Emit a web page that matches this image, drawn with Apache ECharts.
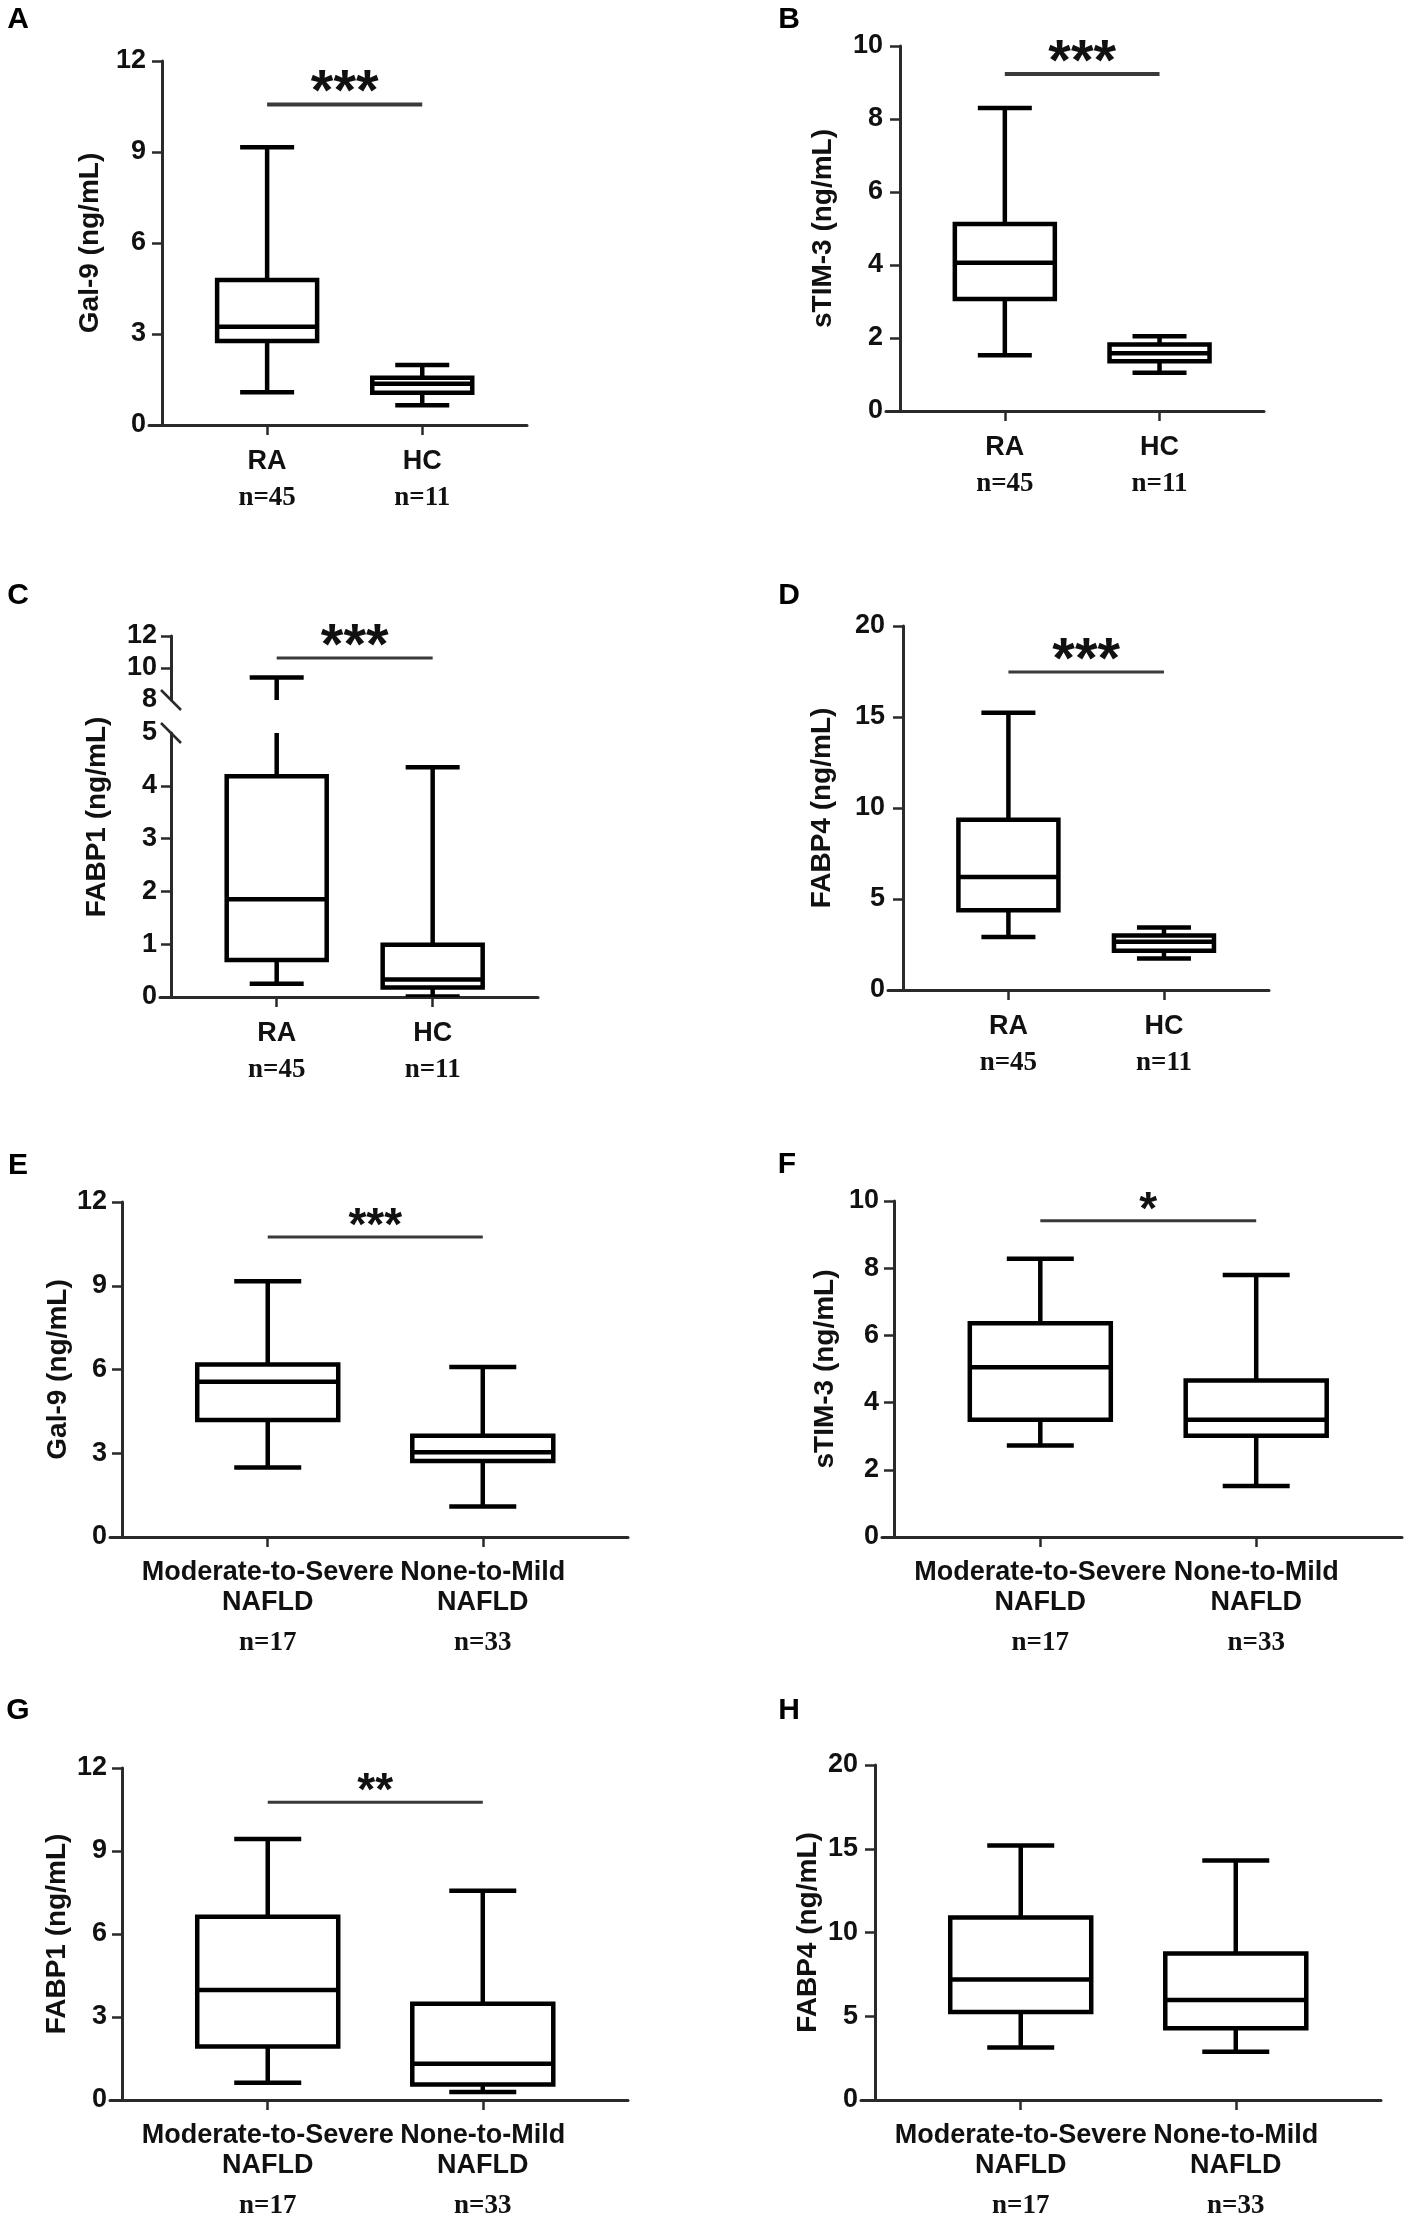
<!DOCTYPE html>
<html>
<head>
<meta charset="utf-8">
<title>Gal-9, sTIM-3, FABP1, FABP4 box plots</title>
<script src="https://cdn.jsdelivr.net/npm/echarts@6/dist/echarts.min.js"></script>
<style>
  html, body { margin: 0; background: #fff; }
  #chart { width: 1412px; height: 2220px; }
</style>
</head>
<body>
<div id="chart"></div>
<script>
/* groups */
const ratGroups = ['RA', 'HC']
const ratCounts = ['n=45', 'n=11']
const nafldGroups = ['Moderate-to-Severe\nNAFLD', 'None-to-Mild\nNAFLD']
const nafldCounts = ['n=17', 'n=33']

/* box stats per group: [min, q1, median, q3, max] */
const gal9RA = [[1.08, 2.77, 3.24, 4.78, 9.16], [0.65, 1.06, 1.36, 1.56, 1.98]]
const stim3RA = [[1.53, 3.07, 4.06, 5.12, 8.30], [1.05, 1.36, 1.58, 1.82, 2.05]]
const fabp1RA = [[0.25, 0.70, 1.85, 4.18, 9.40], [0.01, 0.18, 0.33, 0.99, 4.35]]
const fabp4RA = [[2.91, 4.38, 6.21, 9.35, 15.23], [1.73, 2.16, 2.65, 3.00, 3.44]]
const gal9NAFLD = [[2.49, 4.19, 5.56, 6.18, 9.16], [1.09, 2.72, 3.04, 3.63, 6.09]]
const stim3NAFLD = [[2.72, 3.49, 5.05, 6.36, 8.28], [1.52, 3.01, 3.49, 4.66, 7.80]]
const fabp1NAFLD = [[0.62, 1.93, 3.98, 6.62, 9.43], [0.29, 0.56, 1.31, 3.48, 7.56]]
const fabp4NAFLD = [[3.13, 5.25, 7.20, 10.90, 15.19], [2.88, 4.28, 5.97, 8.74, 14.30]]

/* y ticks */
const gal9Ticks = [0, 3, 6, 9, 12]
const stim3Ticks = [0, 2, 4, 6, 8, 10]
const fabp1LowTicks = [0, 1, 2, 3, 4, 5]
const fabp1HighTicks = [8, 10, 12]
const fabp4Ticks = [0, 5, 10, 15, 20]

/* significance: stars and bar level, panels A..H */
const sigMarks = ['***', '***', '***', '***', '***', '*', '**', '']
const sigLevels = [10.57, 9.23, 10.62, 17.47, 10.75, 9.41, 10.76, null]

/* layout (pixels) */
const catPos = [0.288, 0.713]
const FONT = '"Liberation Sans", Arial, sans-serif'
const SERIF = '"Liberation Serif", "Times New Roman", serif'
const INK = '#111'
const AXIS = '#2a2a2a'

const frames = {
	A: { left: 149, axisX: 162, right: 527, top: 61, bottom: 425, nameGap: 45, letter: [18, 20] },
	B: { left: 886, axisX: 900, right: 1264, top: 46, bottom: 411, nameGap: 49, letter: [789, 20] },
	C: { left: 160, axisX: 171, right: 538, top: 733, bottom: 997, upTop: 636, upBottom: 700, letter: [18, 596] },
	D: { left: 888, axisX: 903, right: 1269, top: 626, bottom: 990, nameGap: 52, letter: [789, 596] },
	E: { left: 110, axisX: 122, right: 628, top: 1202, bottom: 1537, nameGap: 38, letter: [18, 1166] },
	F: { left: 882, axisX: 894, right: 1402, top: 1201, bottom: 1537, nameGap: 43, letter: [787, 1165] },
	G: { left: 110, axisX: 122, right: 628, top: 1768, bottom: 2100, nameGap: 39, letter: [18, 1711] },
	H: { left: 861, axisX: 875, right: 1381, top: 1765, bottom: 2100, nameGap: 39, letter: [789, 1711] }
}

const panels = [
	{ key: 'A', stats: gal9RA, groups: ratGroups, counts: ratCounts, ticks: gal9Ticks, name: 'Gal-9 (ng/mL)' },
	{ key: 'B', stats: stim3RA, groups: ratGroups, counts: ratCounts, ticks: stim3Ticks, name: 'sTIM-3 (ng/mL)' },
	{ key: 'C', stats: fabp1RA, groups: ratGroups, counts: ratCounts, ticks: fabp1LowTicks, name: 'FABP1 (ng/mL)' },
	{ key: 'D', stats: fabp4RA, groups: ratGroups, counts: ratCounts, ticks: fabp4Ticks, name: 'FABP4 (ng/mL)' },
	{ key: 'E', stats: gal9NAFLD, groups: nafldGroups, counts: nafldCounts, ticks: gal9Ticks, name: 'Gal-9 (ng/mL)' },
	{ key: 'F', stats: stim3NAFLD, groups: nafldGroups, counts: nafldCounts, ticks: stim3Ticks, name: 'sTIM-3 (ng/mL)' },
	{ key: 'G', stats: fabp1NAFLD, groups: nafldGroups, counts: nafldCounts, ticks: gal9Ticks, name: 'FABP1 (ng/mL)' },
	{ key: 'H', stats: fabp4NAFLD, groups: nafldGroups, counts: nafldCounts, ticks: fabp4Ticks, name: 'FABP4 (ng/mL)' }
]

/* draw helpers */

const boxRenderer = (boxW, capW, lw) => (params, api) => {
	const x = api.value(0)
	const mn = api.value(1), q1 = api.value(2), md = api.value(3), q3 = api.value(4), mx = api.value(5)
	const px = api.coord([x, 0])[0]
	const y = v => api.coord([x, v])[1]
	const st = { stroke: '#000', lineWidth: lw, fill: null }
	const hline = (v, w) => ({ type: 'line', shape: { x1: px - w / 2, y1: y(v), x2: px + w / 2, y2: y(v) }, style: st })
	return {
		type: 'group',
		children: [
			{ type: 'line', shape: { x1: px, y1: y(mx), x2: px, y2: y(q3) }, style: st },
			{ type: 'line', shape: { x1: px, y1: y(q1), x2: px, y2: y(mn) }, style: st },
			hline(mx, capW),
			hline(mn, capW),
			{ type: 'rect', shape: { x: px - boxW / 2, y: y(q3), width: boxW, height: y(q1) - y(q3) },
				style: { stroke: '#000', lineWidth: lw, fill: '#fff' } },
			hline(md, boxW)
		]
	}
}

const sigRenderer = (mark, fontSize, lw) => (params, api) => {
	const a = api.coord([api.value(0), api.value(2)])
	const b = api.coord([api.value(1), api.value(2)])
	return {
		type: 'group',
		children: [
			{ type: 'line', shape: { x1: a[0], y1: a[1], x2: b[0], y2: b[1] }, style: { stroke: '#3a3a3a', lineWidth: lw } },
			{ type: 'text', x: (a[0] + b[0]) / 2, y: a[1] - 10,
				style: { text: mark, fill: INK, font: `bold ${fontSize}px ${FONT}`, align: 'center', verticalAlign: 'middle' } }
		]
	}
}

const breakRenderer = (params, api) => {
	const p = api.coord([0, api.value(1)])
	return { type: 'line', shape: { x1: p[0] - 10, y1: p[1] - 10, x2: p[0] + 10, y2: p[1] + 10 }, style: { stroke: AXIS, lineWidth: 2.5 } }
}

const catLabel = (panel) => (value) => {
	let i = 0
	if (Math.abs(value - catPos[1]) < Math.abs(value - catPos[0])) i = 1
	const lines = panel.groups[i].split('\n').map(t => `{g|${t}}`).join('\n')
	return `${lines}\n{n|${panel.counts[i]}}`
}

/* build option */

const grids = [], xAxes = [], yAxes = [], series = [], graphics = []

const addGrid = (f, top, bottom) => {
	grids.push({ left: f.left, top: top, width: f.right - f.left, height: bottom - top, containLabel: false })
	return grids.length - 1
}

const yAxisBase = (gridIndex, min, max) => ({
	type: 'value', gridIndex, min, max,
	axisLine: { show: true, onZero: true, lineStyle: { color: AXIS, width: 3 } },
	axisTick: { show: true, length: 10, lineStyle: { color: AXIS, width: 2.5 } },
	axisLabel: { color: INK, fontFamily: FONT, fontWeight: 'bold', fontSize: 27, margin: 3 },
	splitLine: { show: false }
})

const nameStyle = { color: INK, fontFamily: FONT, fontWeight: 'bold', fontSize: 28 }

panels.forEach((panel, pi) => {
	const f = frames[panel.key]
	const isRat = panel.groups === ratGroups
	const xMin = -(f.axisX - f.left) / (f.right - f.axisX)
	const boxW = isRat ? 100 : 141
	const capW = isRat ? 54 : 67
	const rows = panel.stats.map((s, i) => [catPos[i], ...s])

	/* main grid */
	const gi = addGrid(f, f.top, f.bottom)
	xAxes.push({
		type: 'value', gridIndex: gi, min: xMin, max: 1,
		axisLine: { show: true, onZero: false, lineStyle: { color: AXIS, width: 3 } },
		axisTick: { show: true, length: 10, customValues: catPos, lineStyle: { color: AXIS, width: 2.5 } },
		axisLabel: {
			show: true, customValues: catPos, margin: isRat ? 20 : 21,
			formatter: catLabel(panel),
			rich: {
				g: { fontFamily: FONT, fontWeight: 'bold', fontSize: 27, color: INK, lineHeight: isRat ? 34 : 30 },
				n: { fontFamily: SERIF, fontWeight: 'bold', fontSize: 27, color: INK, lineHeight: isRat ? 38 : 50 }
			}
		},
		splitLine: { show: false }
	})
	const ticks = panel.ticks
	const ya = yAxisBase(gi, ticks[0], ticks[ticks.length - 1])
	if (panel.key === 'C') {
		ya.axisLabel.customValues = ticks
		ya.axisTick.customValues = ticks.slice(0, -1)
	} else {
		ya.interval = ticks[1] - ticks[0]
		ya.name = panel.name
		ya.nameLocation = 'middle'
		ya.nameGap = f.nameGap
		ya.nameTextStyle = nameStyle
	}
	yAxes.push(ya)

	series.push({
		type: 'custom', xAxisIndex: gi, yAxisIndex: gi, clip: true,
		renderItem: boxRenderer(boxW, capW, 4.5),
		encode: { x: 0, y: [1, 2, 3, 4, 5] },
		data: rows, z: 3
	})

	let sigGrid = gi

	if (panel.key === 'C') {
		/* upper part of the broken axis */
		const ui = addGrid(f, f.upTop, f.upBottom)
		xAxes.push({ type: 'value', gridIndex: ui, min: xMin, max: 1, show: false })
		const yu = yAxisBase(ui, fabp1HighTicks[0], fabp1HighTicks[fabp1HighTicks.length - 1])
		yu.axisLabel.customValues = fabp1HighTicks
		yu.axisTick.customValues = fabp1HighTicks.slice(1)
		yAxes.push(yu)
		series.push({
			type: 'custom', xAxisIndex: ui, yAxisIndex: ui, clip: true,
			renderItem: boxRenderer(boxW, capW, 4.5),
			encode: { x: 0, y: [1, 2, 3, 4, 5] },
			data: rows, z: 3
		})
		series.push({
			type: 'custom', xAxisIndex: gi, yAxisIndex: gi, clip: false, silent: true,
			renderItem: breakRenderer, data: [[0, ticks[ticks.length - 1]]], z: 4
		})
		series.push({
			type: 'custom', xAxisIndex: ui, yAxisIndex: ui, clip: false, silent: true,
			renderItem: breakRenderer, data: [[0, fabp1HighTicks[0]]], z: 4
		})
		graphics.push({
			type: 'text', x: 97, y: 817, rotation: Math.PI / 2,
			style: { text: panel.name, fill: INK, font: `bold 28px ${FONT}`, align: 'center', verticalAlign: 'middle' }
		})
		sigGrid = ui
	}

	if (sigMarks[pi]) {
		series.push({
			type: 'custom', xAxisIndex: sigGrid, yAxisIndex: sigGrid, clip: false, silent: true,
			renderItem: sigRenderer(sigMarks[pi], isRat ? 58 : 46, isRat && pi < 2 ? 4 : 3),
			encode: { x: [0, 1], y: 2 },
			data: [[catPos[0], catPos[1], sigLevels[pi]]],
			z: 4
		})
	}

	graphics.push({
		type: 'text', x: f.letter[0], y: f.letter[1],
		style: { text: panel.key, fill: '#000', font: `bold 30px ${FONT}`, align: 'center', verticalAlign: 'middle' }
	})
})

const chart = echarts.init(document.getElementById('chart'))
chart.setOption({
	animation: false,
	backgroundColor: '#fff',
	grid: grids,
	xAxis: xAxes,
	yAxis: yAxes,
	series: series,
	graphic: graphics
})
</script>
</body>
</html>
